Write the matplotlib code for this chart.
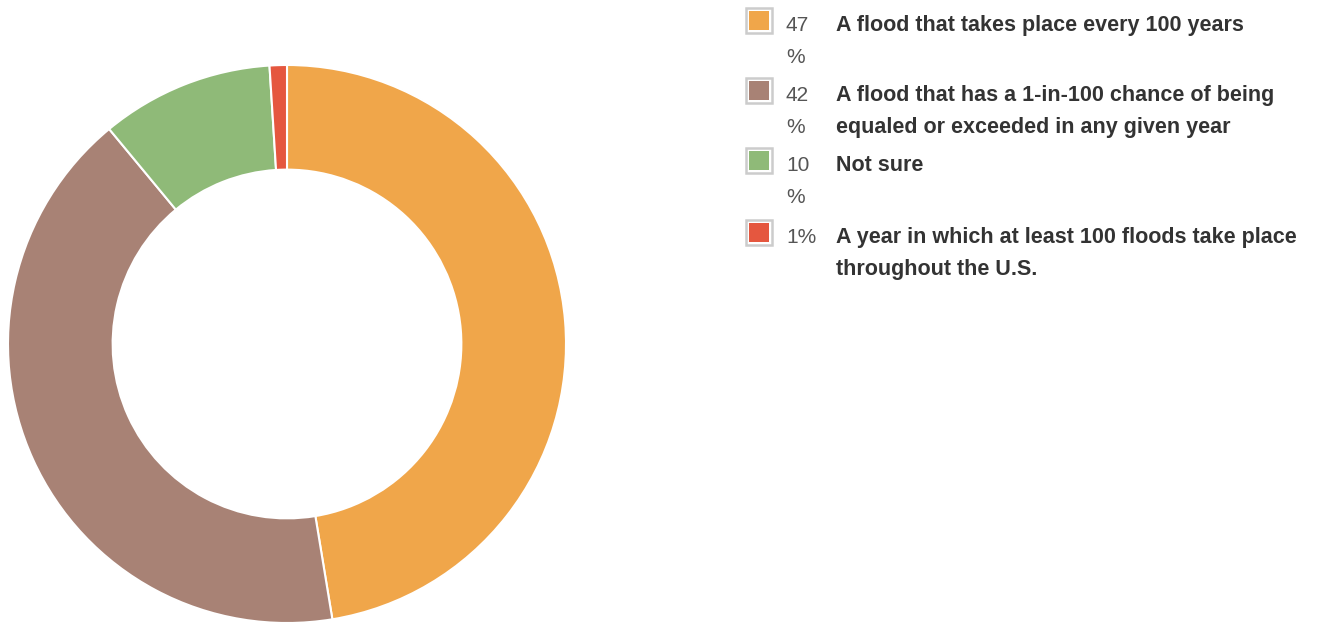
import matplotlib
matplotlib.use("Agg")
import matplotlib.pyplot as plt
from matplotlib.patches import Rectangle

categories = [
    "A flood that takes place every 100 years",
    "A flood that has a 1-in-100 chance of being\nequaled or exceeded in any given year",
    "Not sure",
    "A year in which at least 100 floods take place\nthroughout the U.S.",
]
values = [47.4, 41.6, 10, 1]
value_labels = ["47\n%", "42\n%", "10\n%", "1%"]
colors = ["#F0A64A", "#A88275", "#8FBA78", "#E5573F"]

W, H = 1320, 623
fig = plt.figure(figsize=(W / 100, H / 100), dpi=100)

# donut
cx, cy, R = 287, 344, 279
ax = fig.add_axes([(cx - R) / W, 1 - (cy + R) / H, 2 * R / W, 2 * R / H])
ax.pie(values, colors=colors, startangle=90, counterclock=False, radius=1,
       wedgeprops=dict(width=0.375, edgecolor="white", linewidth=1.5))
ax.set_xlim(-1, 1)
ax.set_ylim(-1, 1)
ax.set_aspect("equal")
ax.axis("off")


def px_rect(x0, y0, x1, y1, **kw):
    return Rectangle((x0 / W, 1 - y1 / H), (x1 - x0) / W, (y1 - y0) / H,
                     transform=fig.transFigure, **kw)


# legend
row_tops = [7, 77, 147, 219]
line_h = 32
font = "Liberation Sans"
for i, (lab, vl, col) in enumerate(zip(categories, value_labels, colors)):
    top = row_tops[i]
    fig.patches.append(px_rect(746.2, top + 1.2, 771.8, top + 25.8, facecolor="white",
                               edgecolor="#cccccc", linewidth=1.8))
    fig.patches.append(px_rect(748.8, top + 3.8, 769.2, top + 23.2,
                               facecolor=col, edgecolor="none"))
    base = top + 24
    for j, s in enumerate(vl.split("\n")):
        fig.text(786 / W, 1 - (base + j * line_h) / H, s, fontsize=15,
                 family=font, color="#555555", va="baseline", ha="left")
    for j, s in enumerate(lab.split("\n")):
        fig.text(836 / W, 1 - (base + j * line_h) / H, s, fontsize=15.5,
                 family=font, weight="bold", color="#333333", va="baseline", ha="left")

fig.savefig("out.png", dpi=100)
